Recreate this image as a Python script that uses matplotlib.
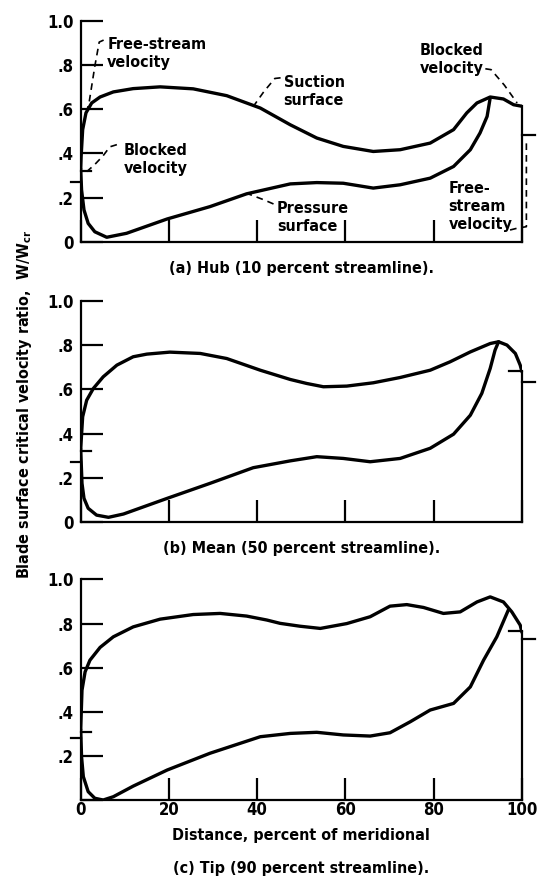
import numpy as np
import matplotlib
matplotlib.use("Agg")
from matplotlib import pyplot as plt

plt.rcParams['font.family'] = ['DejaVu Sans']
plt.rcParams['font.weight'] = 'bold'
plt.rcParams['font.stretch'] = 'condensed'
plt.rcParams['axes.labelweight'] = 'bold'

# ---- data (x = percent meridional, y = W/Wcr) ----
hub_suc_x = [0.0, 0.1, 0.45, 1.2, 2.5, 4.4, 7.4, 11.9, 18.0, 25.5, 33.1, 40.7, 47.5,
             53.5, 59.5, 66.3, 72.4, 79.2, 84.5, 87.5, 89.8, 92.8, 95.8, 98.1, 100.0]
hub_suc_y = [0.33, 0.386, 0.508, 0.584, 0.629, 0.656, 0.679, 0.694, 0.702, 0.693, 0.662,
             0.606, 0.53, 0.47, 0.432, 0.409, 0.417, 0.447, 0.508, 0.584, 0.629, 0.656,
             0.647, 0.621, 0.614]
hub_pre_x = [0.0, 0.2, 0.75, 1.7, 3.2, 5.9, 10.4, 19.6, 29.3, 37.6, 47.5, 53.5, 59.5,
             66.3, 72.4, 79.2, 84.5, 88.3, 90.5, 92.1, 92.8]
hub_pre_y = [0.33, 0.235, 0.144, 0.083, 0.045, 0.02, 0.038, 0.103, 0.159, 0.217, 0.262,
             0.268, 0.265, 0.243, 0.258, 0.288, 0.341, 0.417, 0.493, 0.568, 0.652]

mean_suc_x = [0.0, 0.45, 1.36, 2.86, 5.1, 8.2, 11.9, 15.0, 20.2, 27.1, 33.1, 40.7, 47.5,
              51.2, 55.0, 60.3, 66.3, 72.4, 79.2, 83.7, 88.3, 92.8, 94.7, 96.6, 98.5,
              99.6, 100.0]
mean_suc_y = [0.33, 0.476, 0.551, 0.604, 0.657, 0.710, 0.748, 0.760, 0.769, 0.763, 0.740,
              0.687, 0.645, 0.627, 0.612, 0.615, 0.630, 0.654, 0.687, 0.725, 0.770, 0.808,
              0.816, 0.801, 0.763, 0.71, 0.68]
mean_pre_x = [0.0, 0.3, 0.75, 1.7, 3.6, 6.3, 9.7, 19.6, 29.3, 39.1, 47.5, 53.5, 59.5,
              65.6, 72.4, 79.2, 84.5, 88.3, 90.9, 92.8, 93.9, 94.7]
mean_pre_y = [0.33, 0.174, 0.106, 0.061, 0.030, 0.020, 0.035, 0.106, 0.174, 0.245, 0.276,
              0.295, 0.287, 0.272, 0.287, 0.333, 0.397, 0.483, 0.582, 0.695, 0.778, 0.816]

tip_suc_x = [0.0, 0.3, 1.0, 2.1, 4.4, 7.4, 11.9, 18.0, 25.5, 31.6, 37.6, 42.2, 45.2, 49.7,
             54.3, 60.3, 65.6, 70.1, 73.9, 77.7, 82.2, 86.0, 89.8, 92.8, 95.8, 97.7,
             99.6, 100.0]
tip_suc_y = [0.32, 0.498, 0.581, 0.634, 0.692, 0.740, 0.785, 0.820, 0.841, 0.846, 0.834,
             0.816, 0.801, 0.788, 0.778, 0.800, 0.831, 0.879, 0.886, 0.873, 0.846, 0.853,
             0.898, 0.921, 0.898, 0.853, 0.793, 0.76]
tip_pre_x = [0.0, 0.2, 0.6, 1.7, 3.2, 5.1, 7.4, 11.9, 19.6, 29.3, 40.7, 47.5, 53.5, 59.5,
             65.6, 70.1, 74.7, 79.2, 84.5, 88.3, 91.3, 94.3, 96.9]
tip_pre_y = [0.32, 0.196, 0.106, 0.038, 0.008, 0.0, 0.015, 0.063, 0.136, 0.212, 0.287,
             0.302, 0.307, 0.295, 0.29, 0.305, 0.355, 0.408, 0.438, 0.513, 0.634, 0.740,
             0.861]

# marks on the blade edges (y values)
le_blocked = [0.32, 0.32, 0.31]
le_free = [0.27, 0.27, 0.28]
te_blocked = [None, 0.683, 0.766]
te_free = [0.485, 0.634, 0.73]

x_ticks = [0, 20, 40, 60, 80, 100]
y_ticks = [0, 0.2, 0.4, 0.6, 0.8, 1.0]
y_tick_labels = ['0', '.2', '.4', '.6', '.8', '1.0']
titles = ['(a) Hub (10 percent streamline).',
          '(b) Mean (50 percent streamline).',
          '(c) Tip (90 percent streamline).']

panels = [(hub_suc_x, hub_suc_y, hub_pre_x, hub_pre_y),
          (mean_suc_x, mean_suc_y, mean_pre_x, mean_pre_y),
          (tip_suc_x, tip_suc_y, tip_pre_x, tip_pre_y)]
bottoms = [0.7266, 0.4098, 0.095]

LW = 2.4
fig = plt.figure(figsize=(5.4, 8.84), dpi=100)
axes = []
for i, (sx, sy, px, py) in enumerate(panels):
    ax = fig.add_axes([0.1494, bottoms[i], 0.8172, 0.2495])
    axes.append(ax)
    ax.plot(sx, sy, color='black', lw=LW, solid_capstyle='round', solid_joinstyle='round')
    ax.plot(px, py, color='black', lw=LW, solid_capstyle='round', solid_joinstyle='round')
    # trailing-edge closing line
    ax.plot([sx[-1], sx[-1]], [0, sy[-1]], color='black', lw=1.6, clip_on=False)
    ax.set_xlim(0, 100)
    ax.set_ylim(0, 1.0)
    for s in ['top', 'right']:
        ax.spines[s].set_visible(False)
    for s in ['left', 'bottom']:
        ax.spines[s].set_linewidth(1.6)
    ax.set_xticks(x_ticks)
    ax.tick_params(axis='x', direction='in', length=16, width=1.6, pad=1, labelsize=12)
    ax.tick_params(axis='y', direction='in', length=16, width=1.6, pad=5, labelsize=12)
    ax.set_yticks(y_ticks)
    if i < 2:
        ax.set_yticklabels(y_tick_labels)
        ax.set_xticklabels([])
        sub_y = -0.12
    else:
        ax.set_yticklabels([''] + y_tick_labels[1:])
        ax.set_xticklabels([str(t) for t in x_ticks])
        ax.set_xlabel('Distance, percent of meridional', fontsize=11.5, labelpad=6)
        sub_y = -0.31
    # edge marks
    yt = ax.get_yaxis_transform()
    ax.plot([0, 0.024], [le_blocked[i]] * 2, color='black', lw=1.6, transform=yt, clip_on=False)
    ax.plot([-0.022, 0], [le_free[i]] * 2, color='black', lw=1.6, transform=yt, clip_on=False)
    if te_blocked[i] is not None:
        ax.plot([0.97, 1.0], [te_blocked[i]] * 2, color='black', lw=1.6, transform=yt, clip_on=False)
    ax.plot([1.0, 1.03], [te_free[i]] * 2, color='black', lw=1.6, transform=yt, clip_on=False)
    ax.text(0.5, sub_y, titles[i], transform=ax.transAxes,
            ha='center', va='center', fontsize=11.5)

# annotations on the hub panel
ax = axes[0]
dash = dict(color='black', lw=1.2, ls=(0, (4, 3)), clip_on=False)
txt = dict(fontsize=11.5, linespacing=1.25, va='center', ha='left')
ax.text(6.0, 0.855, 'Free-stream\nvelocity', **txt)
ax.plot([5.2, 4.2, 3.2, 1.95, 1.36], [0.914, 0.905, 0.795, 0.636, 0.59], **dash)
ax.text(9.7, 0.372, 'Blocked\nvelocity', **txt)
ax.plot([8.2, 6.6, 5.1, 3.2, 1.4], [0.44, 0.43, 0.39, 0.35, 0.318], **dash)
ax.text(46.0, 0.682, 'Suction\nsurface', **txt)
ax.plot([45.3, 44.0, 41.5, 39.4], [0.743, 0.74, 0.68, 0.621], **dash)
ax.text(44.5, 0.108, 'Pressure\nsurface', **txt)
ax.plot([43.7, 41.5, 38.2], [0.171, 0.19, 0.215], **dash)
ax.text(76.9, 0.824, 'Blocked\nvelocity', **txt)
ax.plot([91.7, 93.0, 96.0, 98.9], [0.784, 0.78, 0.71, 0.629], **dash)
ax.text(83.4, 0.159, 'Free-\nstream\nvelocity', **txt)
ax.plot([97.3, 98.9, 101.0, 101.0], [0.053, 0.061, 0.068, 0.462], **dash)

fig.text(0.045, 0.542, 'Blade surface critical velocity ratio,  W/W$_{\\mathbf{cr}}$',
         rotation=90, ha='center', va='center', fontsize=11.5)

fig.savefig('out.png', dpi=100)
